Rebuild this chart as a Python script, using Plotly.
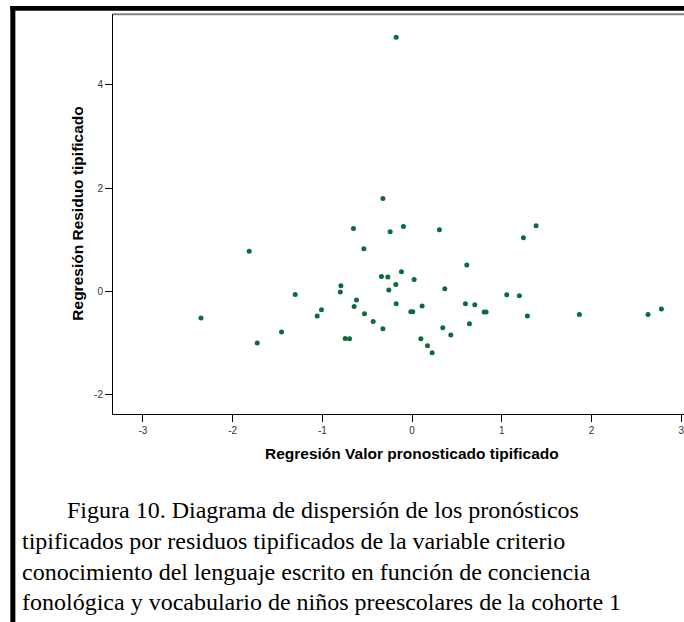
import plotly.graph_objects as go

# Standardized predicted values (x) and standardized residuals (y)
pred_z = [-0.326, -0.654, -0.245, -1.815, -0.538, -0.342, -0.271, -0.182, -0.260, -0.794,
          -0.800, -1.303, -0.620, -0.646, -0.178, -1.010, -1.058, -0.531, -0.434, -0.326,
          -2.353, -1.455, -1.726, -0.746, -0.698, -0.119, -0.097, 0.304, 1.381, 1.240,
          0.609, 0.022, 0.364, 1.054, 1.195, -0.015, 0.007, 0.111, 0.594, 0.698,
          0.802, 0.824, 1.284, 1.863, 2.628, 2.777, 0.341, 0.638, 0.431, 0.097,
          0.171, 0.223, -0.178]
resid_z = [1.800, 1.220, 1.155, 0.780, 0.826, 0.290, 0.278, 0.135, 0.027, 0.110,
           -0.010, -0.058, -0.167, -0.290, -0.238, -0.354, -0.476, -0.431, -0.580, -0.720,
           -0.515, -0.786, -0.999, -0.909, -0.915, 0.380, 1.257, 1.193, 1.271, 1.039,
           0.510, 0.232, 0.052, -0.064, -0.083, -0.393, -0.393, -0.283, -0.238, -0.257,
           -0.400, -0.400, -0.476, -0.445, -0.445, -0.340, -0.702, -0.625, -0.844, -0.915,
           -1.050, -1.186, 4.920]

x_ticks = [-3, -2, -1, 0, 1, 2, 3]
y_ticks = [-2, 0, 2, 4]

x_title = "Regresión Valor pronosticado tipificado"
y_title = "Regresión Residuo tipificado"
caption_lines = [
    "Figura 10. Diagrama de dispersión de los pronósticos",
    "tipificados por residuos tipificados de la variable criterio",
    "conocimiento del lenguaje escrito en función de conciencia",
    "fonológica y vocabulario de niños preescolares de la cohorte 1",
]

W, H = 684, 622
# plot-area edges in page pixels
L, T, B = 112.7, 14.0, 414.3
RE = W  # plot area runs to the right edge of the figure (cropped chart)
X_MIN, PX_PER_X = -3.333, 89.8
Y_MIN, PX_PER_Y = -2.372, 51.7
x_range = [X_MIN, X_MIN + (RE - L) / PX_PER_X]
y_range = [Y_MIN, Y_MIN + (B - T) / PX_PER_Y]


def fx(px):
    return (px - L) / (RE - L)


def fy(py):
    return (B - py) / (B - T)


fig = go.Figure()
fig.add_trace(go.Scatter(
    x=pred_z, y=resid_z, mode="markers",
    marker=dict(size=5, color="#0b6b3a", line=dict(width=0)),
    hoverinfo="x+y", showlegend=False,
))

axis_common = dict(
    showline=True, linecolor="black", linewidth=1, mirror=False,
    showgrid=False, zeroline=False,
    ticks="outside", ticklen=7, tickwidth=1, tickcolor="black",
    ticklabeloverflow="allow",
    tickfont=dict(family="Liberation Sans, Arial, sans-serif", size=10, color="#333333"),
)

fig.update_layout(
    width=W, height=H,
    margin=dict(l=L, r=W - RE, t=T, b=H - B, pad=0),
    paper_bgcolor="white", plot_bgcolor="white",
    xaxis=dict(range=x_range, tickvals=x_ticks, ticktext=[str(v) for v in x_ticks], **axis_common),
    yaxis=dict(range=y_range, tickvals=y_ticks, ticktext=[str(v) for v in y_ticks], **axis_common),
)

shapes = [
    # thick black page frame (top and left)
    dict(type="rect", xref="paper", yref="paper", x0=fx(10), x1=fx(700), y0=fy(10.7), y1=fy(6),
         fillcolor="black", line=dict(width=0), layer="above"),
    dict(type="rect", xref="paper", yref="paper", x0=fx(10), x1=fx(15), y0=fy(640), y1=fy(6),
         fillcolor="black", line=dict(width=0), layer="above"),
    # grey top frame of the plot
    dict(type="line", xref="paper", yref="paper", x0=0, x1=fx(700), y0=fy(14.2), y1=fy(14.2),
         line=dict(color="#808080", width=2), layer="above"),
]
fig.update_layout(shapes=shapes)

annotations = [
    dict(text="<b>" + x_title + "</b>", xref="paper", yref="paper", x=fx(412), y=fy(454),
         xanchor="center", yanchor="middle", showarrow=False,
         font=dict(family="Liberation Sans, Arial, sans-serif", size=15.5, color="black")),
    dict(text="<b>" + y_title + "</b>", xref="paper", yref="paper", x=fx(77.5), y=fy(214),
         xanchor="center", yanchor="middle", showarrow=False, textangle=-90,
         font=dict(family="Liberation Sans, Arial, sans-serif", size=15.5, color="black")),
]
cap_x = [65, 20, 20, 20]
cap_y = [510, 541, 572, 602]
for txt, cx, cy in zip(caption_lines, cap_x, cap_y):
    annotations.append(dict(
        text=txt, xref="paper", yref="paper", x=fx(cx), y=fy(cy),
        xanchor="left", yanchor="middle", showarrow=False,
        font=dict(family="Liberation Serif, Times New Roman, serif", size=24, color="black"),
    ))
fig.update_layout(annotations=annotations)

fig.write_html(
    "out.html",
    config={"displayModeBar": False},
    post_script="document.body.style.margin='0';document.body.style.overflow='hidden';",
)
